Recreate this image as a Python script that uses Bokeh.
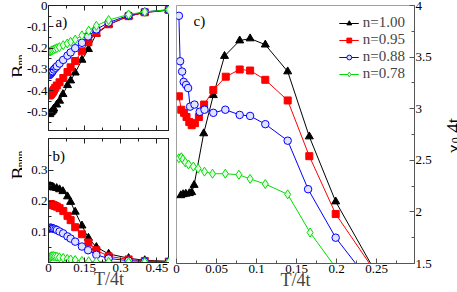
import math
from bokeh.plotting import figure
from bokeh.layouts import row, column
from bokeh.models import Range1d, FixedTicker, LinearAxis, Label, CustomLabelingPolicy
from bokeh.core.properties import value
from bokeh.embed import file_html
from bokeh.resources import INLINE

# ---------------- data ----------------
T_100 = [0.0054, 0.0083, 0.0116, 0.016, 0.019, 0.022, 0.034, 0.046, 0.060, 0.079, 0.092,
         0.111, 0.139, 0.166, 0.199, 0.25, 0.333, 0.4, 0.5]
Bnn_100 = [-0.510, -0.503, -0.500, -0.494, -0.490, -0.484, -0.465, -0.447, -0.416, -0.374,
           -0.352, -0.315, -0.255, -0.205, -0.133, -0.090, -0.050, -0.033, -0.022]
Bnnn_100 = [0.248, 0.248, 0.247, 0.246, 0.245, 0.244, 0.242, 0.238, 0.232, 0.215, 0.197,
            0.165, 0.120, 0.080, 0.050, 0.028, 0.014, 0.007, 0.004]
chi_100 = [2.16, 2.17, 2.175, 2.18, 2.19, 2.26, 2.76, 3.13, 3.51, 3.66, 3.68, 3.62, 3.36,
           2.73, 2.10, 1.40]

T_095 = [0.003, 0.006, 0.0095, 0.0125, 0.016, 0.019, 0.023, 0.028, 0.0345, 0.046, 0.0616,
         0.079, 0.092, 0.111, 0.139, 0.166, 0.199, 0.25, 0.333, 0.4, 0.5]
Bnn_095 = [-0.422, -0.420, -0.417, -0.413, -0.408, -0.402, -0.395, -0.386, -0.375, -0.360,
           -0.340, -0.312, -0.290, -0.260, -0.215, -0.172, -0.128, -0.088, -0.050, -0.032, -0.021]
Bnnn_095 = [0.190, 0.190, 0.190, 0.189, 0.188, 0.187, 0.186, 0.184, 0.182, 0.177, 0.168,
            0.152, 0.138, 0.115, 0.092, 0.065, 0.040, 0.020, 0.010, 0.005, 0.003]
chi_095 = [3.12, 2.99, 2.96, 2.92, 2.87, 2.84, 2.86, 2.92, 3.04, 3.18, 3.31, 3.38, 3.37,
           3.28, 3.08, 2.54, 1.98, 1.40]

T_088 = [0.003, 0.0045, 0.007, 0.009, 0.012, 0.0145, 0.017, 0.0225, 0.029, 0.035, 0.046,
         0.061, 0.079, 0.092, 0.111, 0.139, 0.1645, 0.199, 0.25, 0.333, 0.4, 0.5]
Bnn_088 = [-0.326, -0.325, -0.323, -0.320, -0.316, -0.312, -0.308, -0.300, -0.292, -0.285,
           -0.272, -0.255, -0.235, -0.220, -0.200, -0.175, -0.145, -0.112, -0.080, -0.046,
           -0.030, -0.020]
Bnnn_088 = [0.110, 0.112, 0.113, 0.113, 0.113, 0.112, 0.111, 0.110, 0.108, 0.106, 0.101,
            0.095, 0.085, 0.078, 0.068, 0.052, 0.040, 0.025, 0.013, 0.006, 0.003, 0.002]
chi_088 = [3.90, 3.46, 3.36, 3.26, 3.23, 3.20, 3.02, 3.04, 2.97, 2.99, 2.96, 2.99, 2.94,
           2.93, 2.85, 2.69, 2.22, 1.75, 1.24]

T_078 = [0.003, 0.006, 0.008, 0.011, 0.015, 0.021, 0.027, 0.035, 0.045, 0.061, 0.078,
         0.092, 0.111, 0.139, 0.167, 0.199, 0.25, 0.333, 0.4, 0.5]
Bnn_078 = [-0.216, -0.216, -0.215, -0.213, -0.210, -0.207, -0.204, -0.200, -0.195, -0.186,
           -0.178, -0.170, -0.160, -0.140, -0.118, -0.095, -0.068, -0.042, -0.030, -0.020]
Bnnn_078 = [0.014, 0.017, 0.019, 0.020, 0.021, 0.021, 0.020, 0.019, 0.017, 0.015, 0.012,
            0.010, 0.008, 0.005, 0.004, 0.003, 0.002, 0.001, 0.001, 0.001]
chi_078 = [2.52, 2.53, 2.51, 2.48, 2.46, 2.44, 2.42, 2.39, 2.37, 2.37, 2.36, 2.32, 2.27,
           2.17, 1.80, 1.46]

legend_labels = ["n=1.00", "n=0.95", "n=0.88", "n=0.78"]

ab_xticks = [0, 0.15, 0.3, 0.45]
ab_xlabels = ["0", "0.15", "0.3", "0.45"]
ab_xminor = [0.075, 0.225, 0.375]
a_yticks = [-0.5, -0.4, -0.3, -0.2, -0.1, 0]
a_ylabels = ["-0.5", "-0.4", "-0.3", "-0.2", "-0.1", "0"]
a_yminor = [-0.55, -0.45, -0.35, -0.25, -0.15, -0.05]
b_yticks = [0.1, 0.2, 0.3]
b_ylabels = ["0.1", "0.2", "0.3"]
b_yminor = [0.05, 0.15, 0.25, 0.35]
c_xticks = [0, 0.05, 0.1, 0.15, 0.2, 0.25]
c_xlabels = ["0", "0.05", "0.1", "0.15", "0.2", "0.25"]
c_xminor = [0.025, 0.075, 0.125, 0.175, 0.225, 0.275]
c_yticks = [1.5, 2, 2.5, 3, 3.5, 4]
c_ylabels = ["1.5", "2", "2.5", "3", "3.5", "4"]
c_yminor = [1.75, 2.25, 2.75, 3.25, 3.75]

# ---------------- style ----------------
FONT = "Times New Roman"

series = [
    dict(T=T_100, a=Bnn_100, b=Bnnn_100, c=chi_100, color="black", marker="triangle",
         size=8, fill="black"),
    dict(T=T_095, a=Bnn_095, b=Bnnn_095, c=chi_095, color="#ff0000", marker="square",
         size=7, fill="#ff0000"),
    dict(T=T_088, a=Bnn_088, b=Bnnn_088, c=chi_088, color="#0000ff", marker="circle",
         size=7.5, fill="#e0e3ff"),
    dict(T=T_078, a=Bnn_078, b=Bnnn_078, c=chi_078, color="#00dd00", marker="diamond",
         size=9, fill="#e6ffe6"),
]


def make_axis(ticks, minor, labels, show, color="#222222", label=None):
    ax = LinearAxis(ticker=FixedTicker(ticks=ticks, minor_ticks=minor))
    ax.major_tick_in = 5
    ax.major_tick_out = 0
    ax.minor_tick_in = 3
    ax.minor_tick_out = 0
    ax.axis_line_color = color
    ax.major_tick_line_color = color
    ax.minor_tick_line_color = color
    ax.major_label_overrides = dict(zip(ticks, labels))
    ax.major_label_text_font = FONT
    ax.major_label_text_color = "black"
    if show:
        ax.major_label_text_font_size = "13px"
        ax.major_label_standoff = 1
    else:
        ax.major_label_text_font_size = "1px"
        ax.major_label_standoff = 0
        ax.major_label_policy = CustomLabelingPolicy(code="return []")
    if label:
        ax.axis_label = label
        ax.axis_label_text_font = FONT
        ax.axis_label_text_font_size = "18px"
        ax.axis_label_text_font_style = "normal"
        ax.axis_label_standoff = -6
    return ax


def base_fig(w, h, xr, yr, **borders):
    p = figure(width=w, height=h, x_range=xr, y_range=yr, output_backend="svg",
               toolbar_location=None, x_axis_location=None, y_axis_location=None,
               **borders)
    p.xgrid.visible = False
    p.ygrid.visible = False
    p.outline_line_color = "#222222"
    p.background_fill_color = "white"
    p.border_fill_color = "white"
    return p


def letter(p, x, y, text):
    p.add_layout(Label(x=x, y=y, x_units="screen", y_units="screen", text=text,
                       text_font=FONT, text_font_size="15px", text_baseline="top",
                       text_align="left", text_color="black"))


# ---------------- panel a ----------------
pa = base_fig(147, 134, Range1d(0, 0.503), Range1d(-0.586, 0),
              min_border_left=26, min_border_right=0, min_border_top=5, min_border_bottom=0)
pa.add_layout(make_axis(a_yticks, a_yminor, a_ylabels, True), "left")
pa.add_layout(make_axis(ab_xticks, ab_xminor, ab_xlabels, False), "below")
pa.add_layout(make_axis(ab_xticks, ab_xminor, ab_xlabels, False), "above")

# ---------------- panel b ----------------
pb = base_fig(147, 158, pa.x_range, Range1d(0, 0.404),
              min_border_left=26, min_border_right=0, min_border_top=0, min_border_bottom=30)
pb.add_layout(make_axis(b_yticks, b_yminor, b_ylabels, True), "left")
pb.add_layout(make_axis(ab_xticks, ab_xminor, ab_xlabels, True, label="T/4t"), "below")
pb.add_layout(make_axis(ab_xticks, ab_xminor, ab_xlabels, False), "above")

# ---------------- panel c ----------------
pc = base_fig(268, 292, Range1d(0, 0.2975), Range1d(1.5, 4.0),
              min_border_left=7, min_border_right=23, min_border_top=5, min_border_bottom=29)
pc.outline_line_color = "#a0a0a0"
pc.add_layout(make_axis(c_yticks, c_yminor, c_ylabels, True, color="#555555"), "right")
pc.add_layout(make_axis(c_xticks, c_xminor, c_xlabels, True, color="#555555", label="T/4t"),
              "below")

for s, lab in zip(series, legend_labels):
    for p, key in ((pa, "a"), (pb, "b")):
        vals = s[key]
        p.line(s["T"][:len(vals)], vals, line_color=s["color"], line_width=1)
        p.scatter(s["T"][:len(vals)], vals, marker=s["marker"], size=s["size"],
                  line_color=s["color"], fill_color=s["fill"], line_width=1)
    vals = s["c"]
    pc.line(s["T"][:len(vals)], vals, line_color=s["color"], line_width=1, legend_label=lab)
    pc.scatter(s["T"][:len(vals)], vals, marker=s["marker"], size=s["size"],
               line_color=s["color"], fill_color=s["fill"], line_width=1, legend_label=lab)

lg = pc.legend[0]
lg.location = "top_right"
lg.margin = 9
lg.padding = 0
lg.spacing = -3
lg.border_line_color = None
lg.background_fill_alpha = 0
lg.label_text_font = FONT
lg.label_text_font_size = "15px"
lg.glyph_width = 20
lg.glyph_height = 12
lg.label_height = 12
lg.label_standoff = 4

# panel letters
letter(pa, 7, 117, "a)")
letter(pb, 4, 115, "b)")
letter(pc, 17, 251, "c)")


# ---------------- side strips holding the rotated axis titles ----------------
def label_fig(w):
    f = figure(width=w, height=292, x_range=Range1d(0, w), y_range=Range1d(0, 292),
               output_backend="svg", toolbar_location=None, x_axis_location=None,
               y_axis_location=None, min_border_left=0, min_border_right=0,
               min_border_top=0, min_border_bottom=0)
    f.xgrid.visible = False
    f.ygrid.visible = False
    f.outline_line_color = None
    return f


def vtext(f, x, y, text, size):
    f.text(x=[x], y=[y], text=[text], angle=math.pi / 2, text_font=value(FONT),
           text_font_size=value(size), text_align="left", text_baseline="alphabetic",
           text_color="black")


left_lab = label_fig(22)
vtext(left_lab, 17.5, 210, "B", "19px")
vtext(left_lab, 19, 224, "nn", "11px")
vtext(left_lab, 17.5, 95, "B", "19px")
vtext(left_lab, 19, 109, "nnn", "11px")

right_lab = label_fig(20)
vtext(right_lab, 16, 125, "\u03c7", "19px")
vtext(right_lab, 18, 136, "0", "12px")
vtext(right_lab, 16, 148, "4t", "19px")

layout = row(left_lab, column(pa, pb), pc, right_lab)
open("out.html", "w").write(file_html(layout, INLINE))
